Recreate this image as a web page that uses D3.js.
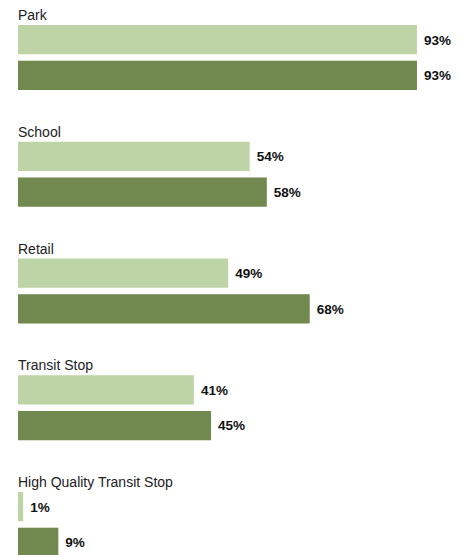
<!DOCTYPE html>
<html>
<head>
<meta charset="utf-8">
<script src="https://cdn.jsdelivr.net/npm/d3@7"></script>
<style>
  html, body { margin: 0; padding: 0; background: #fff; }
  svg { display: block; }
</style>
</head>
<body>
<div id="chart"></div>
<script>
const categories = ['Park', 'School', 'Retail', 'Transit Stop', 'High Quality Transit Stop']
const series = ['light', 'dark']
const lightValues = [93, 54, 49, 41, 1.2]
const darkValues = [93, 58, 68, 45, 9.4]
const valueLabels = {
  light: ['93%', '54%', '49%', '41%', '1%'],
  dark: ['93%', '58%', '68%', '45%', '9%']
}

const width = 469
const height = 555
const colors = { light: '#bfd4a6', dark: '#71884e' }

const rows = categories.map((cat, i) => ({
  cat,
  values: [
    { key: 'light', value: lightValues[i], label: valueLabels.light[i] },
    { key: 'dark', value: darkValues[i], label: valueLabels.dark[i] }
  ]
}))

const svg = d3.select('#chart')
  .append('svg')
  .attr('width', width)
  .attr('height', height)

const x = d3.scaleLinear().domain([0, 100]).range([18, 447])

// each group: label + two bars, stepped evenly down the page
const groupY = d3.scalePoint()
  .domain(categories)
  .range([25, 492])

const barY = d3.scaleBand()
  .domain(series)
  .range([0, 65])
  .paddingInner(0.18)

const group = svg.selectAll('g.group')
  .data(rows)
  .join('g')
  .attr('class', 'group')
  .attr('transform', d => `translate(0,${groupY(d.cat)})`)

group.append('text')
  .attr('x', x(0))
  .attr('y', -5)
  .attr('font-family', 'Liberation Sans, Arial, sans-serif')
  .attr('font-size', 14)
  .attr('fill', '#222')
  .text(d => d.cat)

const bar = group.selectAll('g.bar')
  .data(d => d.values)
  .join('g')
  .attr('class', 'bar')

bar.append('rect')
  .attr('x', x(0))
  .attr('y', d => barY(d.key))
  .attr('width', d => x(d.value) - x(0))
  .attr('height', barY.bandwidth())
  .attr('fill', d => colors[d.key])

bar.append('text')
  .attr('x', d => x(d.value) + 7)
  .attr('y', d => barY(d.key) + barY.bandwidth() / 2)
  .attr('dy', '0.36em')
  .attr('font-family', 'Liberation Sans, Arial, sans-serif')
  .attr('font-weight', 'bold')
  .attr('font-size', 13.5)
  .attr('fill', '#111')
  .text(d => d.label)
</script>
</body>
</html>
